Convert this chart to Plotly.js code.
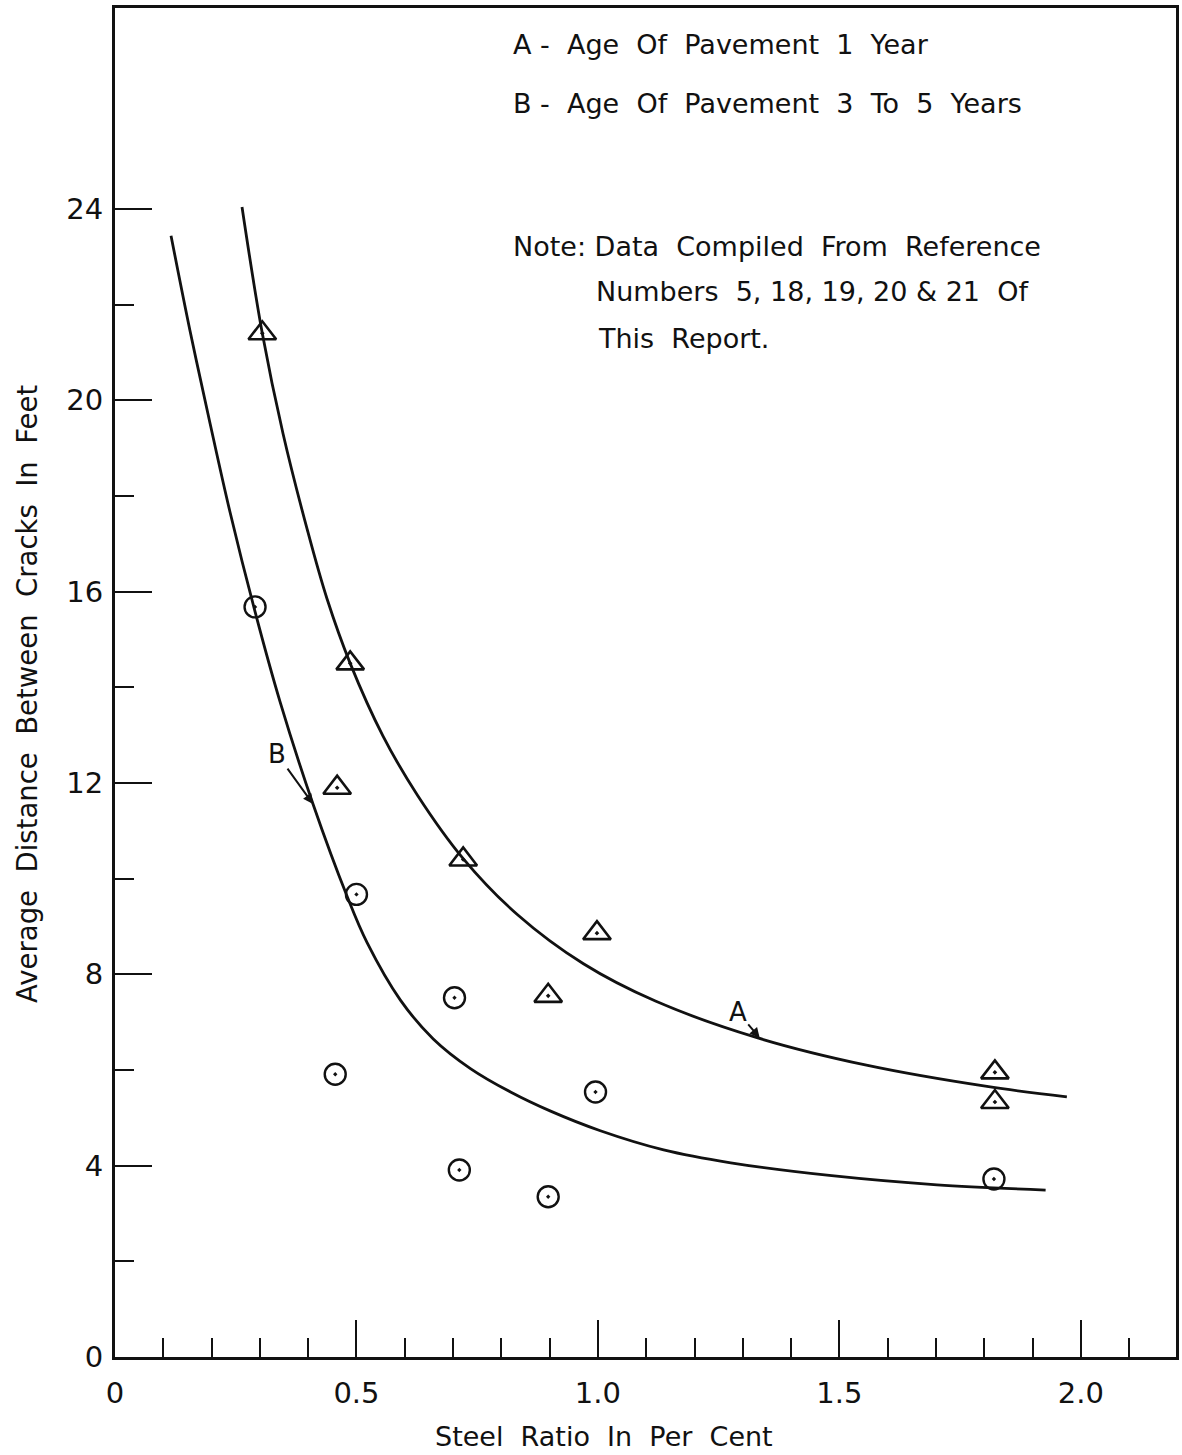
<!DOCTYPE html>
<html>
<head>
<meta charset="utf-8">
<script src="https://cdn.plot.ly/plotly-3.0.1.min.js"></script>
<style>html,body{margin:0;padding:0;background:#fff;}#chart{width:1182px;height:1455px;}</style>
</head>
<body>
<div id="chart"></div>
<script>
// ---- data ----
// Curve A: age of pavement 1 year (fitted curve drawn on the chart)
const curveAx = [0.263, 0.305, 0.348, 0.398, 0.439, 0.487, 0.555, 0.626, 0.721, 0.833, 0.970, 1.119, 1.331, 1.556, 1.809, 1.971];
const curveAy = [24.04, 21.40, 19.30, 17.30, 15.85, 14.50, 12.98, 11.75, 10.42, 9.25, 8.22, 7.44, 6.67, 6.10, 5.65, 5.44];
// Curve B: age of pavement 3 to 5 years (fitted curve drawn on the chart)
const curveBx = [0.116, 0.155, 0.197, 0.238, 0.290, 0.342, 0.410, 0.481, 0.522, 0.591, 0.659, 0.736, 0.819, 0.902, 1.005, 1.136, 1.275, 1.484, 1.702, 1.927];
const curveBy = [23.44, 21.47, 19.51, 17.67, 15.58, 13.69, 11.56, 9.62, 8.66, 7.46, 6.65, 6.03, 5.54, 5.14, 4.73, 4.33, 4.06, 3.79, 3.60, 3.49];
// Observed points, A (triangles)
const pointsAx = [0.305, 0.487, 0.460, 0.721, 0.998, 0.897, 1.822, 1.822];
const pointsAy = [21.4, 14.5, 11.9, 10.4, 8.86, 7.55, 5.95, 5.33];
// Observed points, B (circles)
const pointsBx = [0.290, 0.500, 0.703, 0.456, 0.995, 0.713, 0.897, 1.820];
const pointsBy = [15.68, 9.67, 7.51, 5.91, 5.54, 3.91, 3.35, 3.72];
// Axis ticks
const xTickVals = [0, 0.5, 1.0, 1.5, 2.0];
const xTickText = ['0', '0.5', '1.0', '1.5', '2.0'];
const xMinorVals = [0.1, 0.2, 0.3, 0.4, 0.6, 0.7, 0.8, 0.9, 1.1, 1.2, 1.3, 1.4, 1.6, 1.7, 1.8, 1.9, 2.1];
const yTickVals = [0, 4, 8, 12, 16, 20, 24];
const yTickText = ['0', '4', '8', '12', '16', '20', '24'];
const yMinorVals = [2, 6, 10, 14, 18, 22];
// Texts
const xTitle = 'Steel  Ratio  In  Per  Cent';
const yTitle = 'Average  Distance  Between  Cracks  In  Feet';
const legendLines = ['A -  Age  Of  Pavement  1  Year', 'B -  Age  Of  Pavement  3  To  5  Years'];
const noteLines = ['Note: Data  Compiled  From  Reference', 'Numbers  5, 18, 19, 20 & 21  Of', 'This  Report.'];
const curveLabels = ['A', 'B'];

const INK = '#111111';
const FONT = 'DejaVu Sans';

const traces = [
  {name: 'A curve', x: curveAx, y: curveAy, mode: 'lines', line: {color: INK, width: 2.8, shape: 'spline', smoothing: 1}, hoverinfo: 'skip'},
  {name: 'B curve', x: curveBx, y: curveBy, mode: 'lines', line: {color: INK, width: 2.8, shape: 'spline', smoothing: 1}, hoverinfo: 'skip'},
  {name: 'A', x: pointsAx, y: pointsAy, mode: 'markers', marker: {symbol: 'triangle-up-open-dot', size: 24, color: INK, line: {color: INK, width: 2.6}}},
  {name: 'B', x: pointsBx, y: pointsBy, mode: 'markers', marker: {symbol: 'circle-open-dot', size: 21, color: INK, line: {color: INK, width: 2.4}}}
];

const annFont = {family: FONT, size: 27, color: INK};
const annotations = [
  {x: 0.819, y: 27.43, xref: 'x', yref: 'y', text: legendLines[0], showarrow: false, xanchor: 'left', yanchor: 'middle', font: annFont},
  {x: 0.819, y: 26.20, xref: 'x', yref: 'y', text: legendLines[1], showarrow: false, xanchor: 'left', yanchor: 'middle', font: annFont},
  {x: 0.819, y: 23.21, xref: 'x', yref: 'y', text: noteLines[0], showarrow: false, xanchor: 'left', yanchor: 'middle', font: annFont},
  {x: 0.991, y: 22.27, xref: 'x', yref: 'y', text: noteLines[1], showarrow: false, xanchor: 'left', yanchor: 'middle', font: annFont},
  {x: 0.997, y: 21.30, xref: 'x', yref: 'y', text: noteLines[2], showarrow: false, xanchor: 'left', yanchor: 'middle', font: annFont},
  {x: 0.410, y: 11.56, xref: 'x', yref: 'y', text: curveLabels[1], showarrow: true, arrowhead: 2, arrowsize: 1, arrowwidth: 2, arrowcolor: INK, ax: -36, ay: -50, standoff: 0, font: {family: FONT, size: 26, color: INK}},
  {x: 1.335, y: 6.67, xref: 'x', yref: 'y', text: curveLabels[0], showarrow: true, arrowhead: 2, arrowsize: 1, arrowwidth: 2, arrowcolor: INK, ax: -22, ay: -26, standoff: 0, font: {family: FONT, size: 26, color: INK}},
  // axis titles
  {x: 0.461, y: -0.0586, xref: 'paper', yref: 'paper', text: xTitle, showarrow: false, xanchor: 'center', yanchor: 'middle', font: annFont},
  {x: -0.083, y: 0.4915, xref: 'paper', yref: 'paper', text: yTitle, textangle: -90, showarrow: false, xanchor: 'center', yanchor: 'middle', font: {family: FONT, size: 27.5, color: INK}}
];

const layout = {
  width: 1182, height: 1455,
  margin: {l: 115, r: 6, t: 8, b: 98},
  paper_bgcolor: '#ffffff', plot_bgcolor: '#ffffff',
  showlegend: false,
  xaxis: {
    range: [0, 2.197], tickmode: 'array', tickvals: xTickVals, ticktext: xTickText,
    ticks: 'inside', ticklen: 37, tickwidth: 2, tickcolor: INK,
    showline: true, linewidth: 3, linecolor: INK, mirror: true,
    showgrid: false, zeroline: false,
    minor: {tickmode: 'array', tickvals: xMinorVals, ticks: 'inside', ticklen: 19, tickwidth: 2, tickcolor: INK, showgrid: false},
    tickfont: {family: FONT, size: 29, color: INK},
    ticklabelstandoff: 8
  },
  yaxis: {
    range: [0, 28.2], tickmode: 'array', tickvals: yTickVals, ticktext: yTickText,
    ticks: 'inside', ticklen: 37, tickwidth: 2, tickcolor: INK,
    showline: true, linewidth: 3, linecolor: INK, mirror: true,
    showgrid: false, zeroline: false,
    minor: {tickmode: 'array', tickvals: yMinorVals, ticks: 'inside', ticklen: 19, tickwidth: 2, tickcolor: INK, showgrid: false},
    tickfont: {family: FONT, size: 29, color: INK},
    ticklabelstandoff: 3
  },
  annotations: annotations
};

Plotly.newPlot('chart', traces, layout, {displayModeBar: false, staticPlot: true});
</script>
</body>
</html>
